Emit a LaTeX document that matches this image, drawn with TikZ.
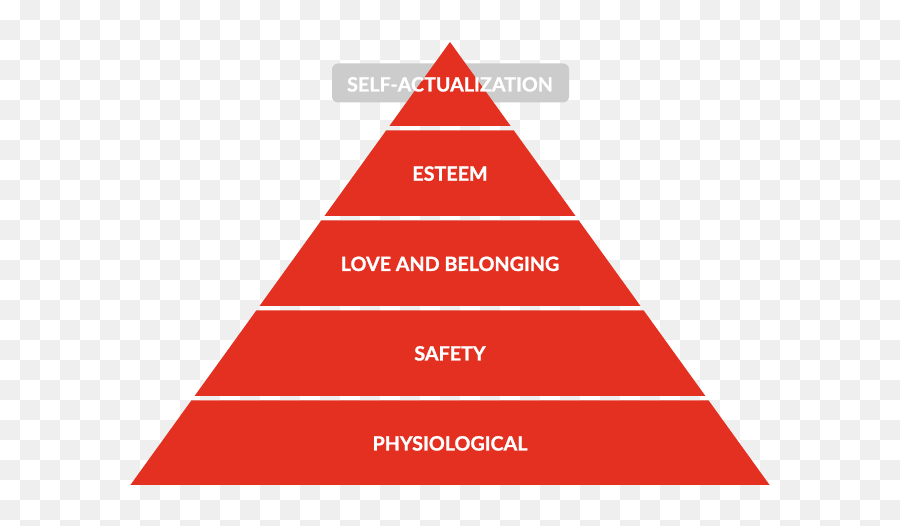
\documentclass[tikz,border=0pt]{standalone}
\usepackage{fontspec}
\setmainfont{Lato}[BoldFeatures={FakeBold=1.1}]
\definecolor{pyrred}{HTML}{E33021}
\definecolor{boxgray}{HTML}{CCCCCC}
\definecolor{checker}{HTML}{EFEFEF}
\newcommand\pyrband[2]{%
  \pgfmathsetmacro\pa{0.7215*(#1-42)}%
  \pgfmathsetmacro\pb{0.7215*(#2-42)}%
  \fill[pyrred] ({450-\pa},#1) -- ({450+\pa},#1) -- ({450+\pb},#2) -- ({450-\pb},#2) -- cycle;}
\tikzset{
  lbl/.style={text=white, font=\fontsize{19.7}{20}\selectfont\bfseries, inner sep=0pt, anchor=base},
}
\begin{document}
\begin{tikzpicture}[x=1pt,y=-1pt]
\useasboundingbox (0,0) rectangle (900,526);
\clip (0,0) rectangle (900,526);
\fill[white] (0,0) rectangle (900,526);
\foreach \i in {0,...,44}{\foreach \j in {0,...,26}{%
  \pgfmathtruncatemacro\s{mod(\i+\j,2)}%
  \ifnum\s=1 \fill[checker] (\i*20,\j*20) rectangle ++(20,20);\fi}}
\fill[boxgray, rounded corners=6pt] (332,63.5) rectangle (569,102.5);
\pyrband{42}{126}
\pyrband{130.5}{216}
\pyrband{220.5}{306}
\pyrband{310.5}{396}
\pyrband{400.5}{485}
\node[lbl] (selfact) at (450,91.5) {SELF-ACTUALIZATION};
\node[lbl] (esteem) at (450,180.7) {ESTEEM};
\node[lbl] (love) at (450,271) {LOVE AND BELONGING};
\node[lbl] (safety) at (450,360.5) {SAFETY};
\node[lbl] (physio) at (450,450.5) {PHYSIOLOGICAL};
\end{tikzpicture}
\end{document}
